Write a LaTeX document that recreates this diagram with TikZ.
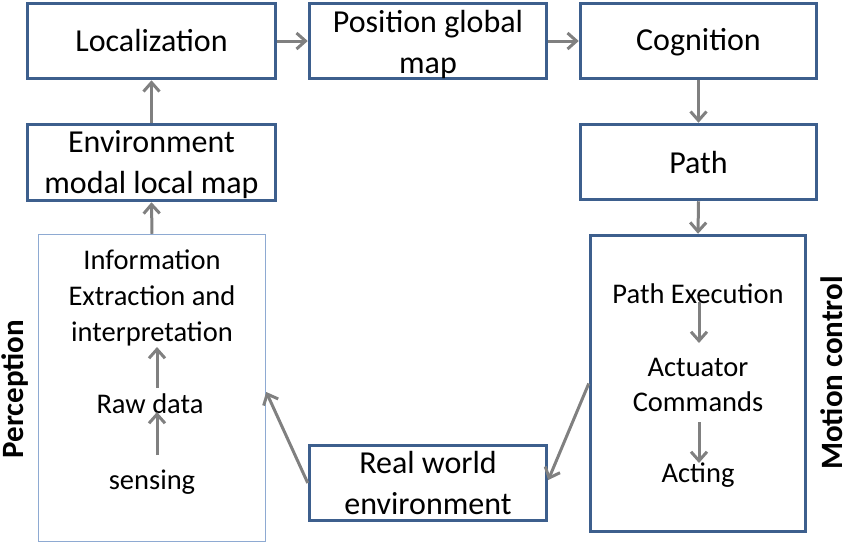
\documentclass[tikz,border=0pt]{standalone}
\usepackage{fontspec}
\setmainfont{Carlito}
\usetikzlibrary{arrows.meta}
\definecolor{boxblue}{RGB}{61,95,141}
\definecolor{lightblue}{RGB}{142,170,210}
\definecolor{arrgray}{RGB}{128,128,128}
\begin{document}
\begin{tikzpicture}[x=1pt,y=-1pt,
  mainbox/.style={draw=boxblue, line width=3.5pt, inner sep=0pt, align=center, font=\fontsize{32}{41}\selectfont},
  percbox/.style={draw=lightblue, line width=1.5pt, inner sep=0pt},
  arr/.style={draw=arrgray, line width=3pt, -{Straight Barb[length=9pt,width=16pt]}},
  innertext/.style={inner sep=0pt, align=center, font=\fontsize{28.5}{36}\selectfont},
  sidelabel/.style={rotate=90, font=\fontsize{31}{31}\selectfont\bfseries, inner sep=0pt}]
\useasboundingbox (0,0) rectangle (850,550);

\node[mainbox, minimum width=248pt, minimum height=75pt] (loc) at (151.5,41) {Localization};
\node[mainbox, minimum width=237pt, minimum height=75pt] (pos) at (428,41) {\rule{0pt}{29pt}Position global\\map};
\node[mainbox, minimum width=236pt, minimum height=75pt] (cog) at (698.5,41) {\rule{0pt}{24pt}Cognition};
\node[mainbox, minimum width=248pt, minimum height=76pt] (env) at (151.5,162.5) {\rule{0pt}{27pt}Environment\\modal local map};
\node[mainbox, minimum width=236pt, minimum height=75pt] (path) at (698.5,162) {Path};
\node[percbox, minimum width=227pt, minimum height=307pt] (perc) at (152,388) {};
\node[mainbox, minimum width=215pt, minimum height=296pt] (motion) at (698,383.5) {};
\node[mainbox, minimum width=237pt, minimum height=75pt] (real) at (428,483) {Real world\\environment};

\node[innertext] (info) at (152,298) {Information\\Extraction and\\interpretation};
\node[innertext] (raw) at (150,404) {Raw data};
\node[innertext] (sens) at (152,482) {sensing};
\node[innertext] (pe) at (698,294) {Path Execution};
\node[innertext, font=\fontsize{28.5}{35}\selectfont] (act) at (698,385) {Actuator\\Commands};
\node[innertext] (acting) at (698,475) {Acting};

\node[sidelabel] (plabel) at (15,389) {Perception};
\node[sidelabel] (mlabel) at (832,373) {Motion control};

\draw[arr] (loc.east) -- (pos.west);
\draw[arr] (pos.east) -- (cog.west);
\draw[arr] (env.north) -- (loc.south);
\draw[arr] (perc.north) -- (env.south);
\draw[arr] (cog.south) -- (path.north);
\draw[arr] (path.south) -- (motion.north);
\draw[arr] (motion.west) -- ([yshift=3pt]real.east);
\draw[arr] (real.west) -- ([yshift=-4pt]perc.east);

\draw[arr] ([xshift=7pt,yshift=16pt]raw.center) -- ([xshift=5pt,yshift=-49pt]info.center);
\draw[arr] ([xshift=5pt,yshift=27pt]sens.center) -- ([xshift=7pt,yshift=-8pt]raw.center);
\draw[arr] ([xshift=1pt,yshift=-8pt]pe.center) -- ([xshift=1pt,yshift=42pt]act.center);
\draw[arr] ([xshift=1pt,yshift=-37pt]act.center) -- ([xshift=1pt,yshift=12pt]acting.center);
\end{tikzpicture}
\end{document}
